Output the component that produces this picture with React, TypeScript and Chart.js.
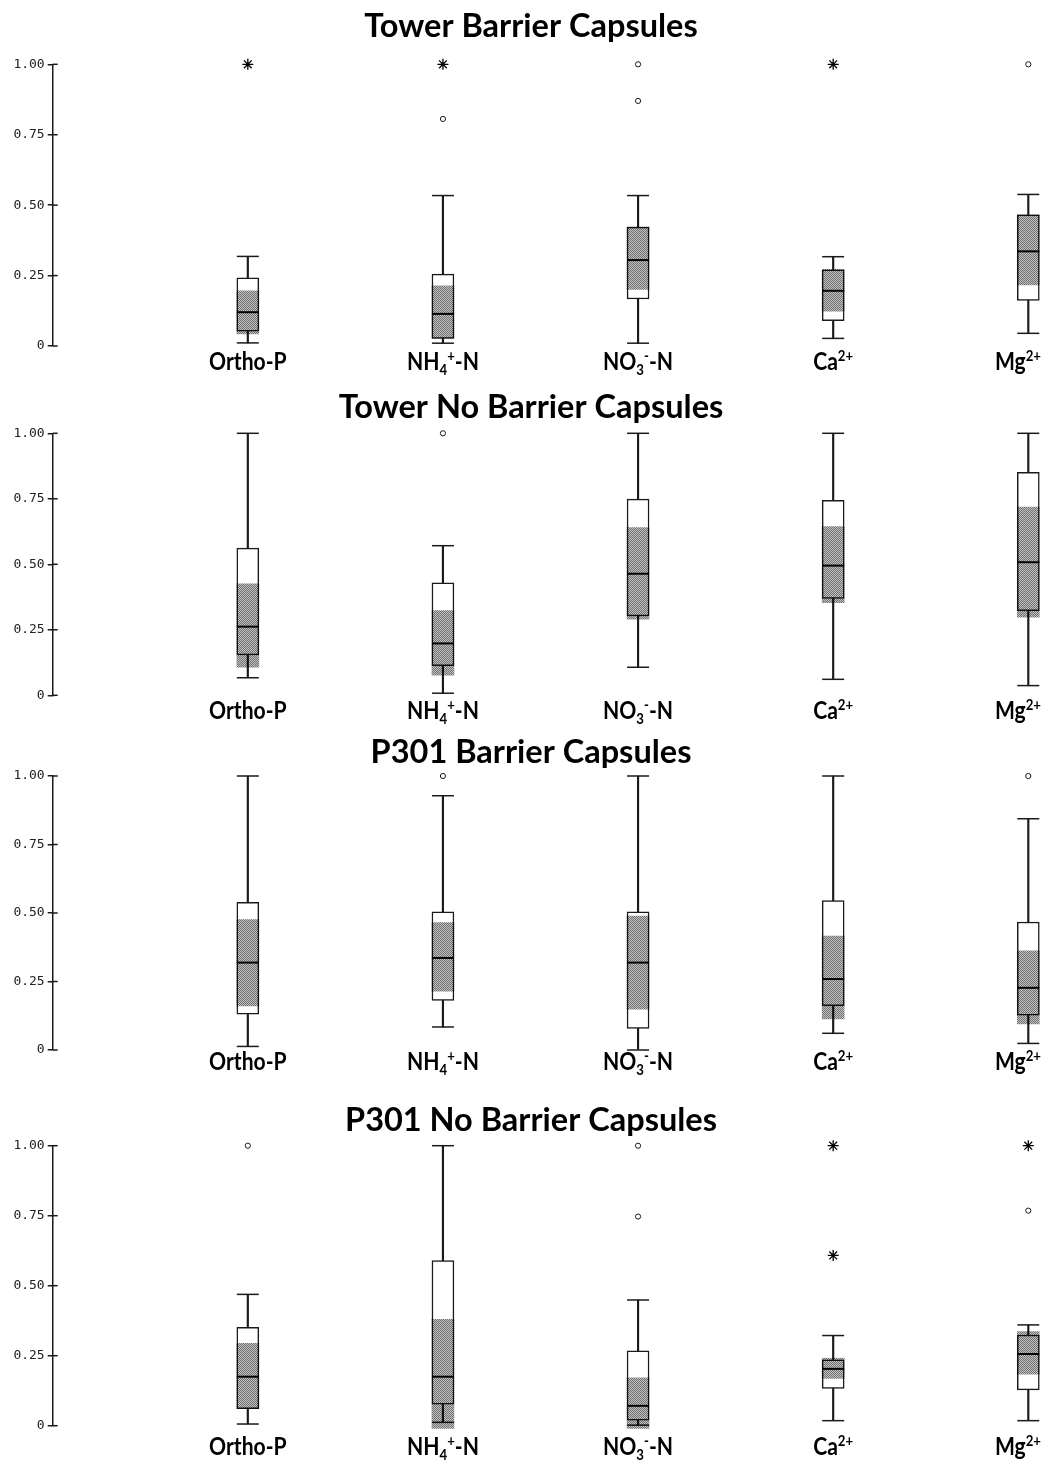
import React, { useEffect, useRef } from 'react';
import { Chart, registerables } from 'chart.js';

Chart.register(...registerables);

// ---------- data ----------
const categories = ['Ortho-P', 'NH4+-N', 'NO3--N', 'Ca2+', 'Mg2+'];
// label pieces: n = normal, sub = subscript, sup = superscript
const categoryLabelParts: [string, string][][] = [
  [['Ortho-P', 'n']],
  [['NH', 'n'], ['4', 'sub'], ['+', 'sup'], ['-N', 'n']],
  [['NO', 'n'], ['3', 'sub'], ['-', 'sup'], ['-N', 'n']],
  [['Ca', 'n'], ['2+', 'sup']],
  [['Mg', 'n'], ['2+', 'sup']],
];
const yTickValues = [0, 0.25, 0.5, 0.75, 1.0];
const yTickLabels = ['0', '0.25', '0.50', '0.75', '1.00'];

const panelTitles = [
  'Tower Barrier Capsules',
  'Tower No Barrier Capsules',
  'P301 Barrier Capsules',
  'P301 No Barrier Capsules',
];

// Tower Barrier
const towerBarrierWhiskerLow = [0.011, 0.010, 0.010, 0.027, 0.045];
const towerBarrierQ1 = [0.053, 0.027, 0.167, 0.090, 0.162];
const towerBarrierMedian = [0.120, 0.114, 0.305, 0.196, 0.336];
const towerBarrierQ3 = [0.242, 0.255, 0.422, 0.270, 0.466];
const towerBarrierWhiskerHigh = [0.318, 0.534, 0.534, 0.317, 0.538];
const towerBarrierCiLow = [0.043, 0.027, 0.201, 0.124, 0.217];
const towerBarrierCiHigh = [0.196, 0.214, 0.422, 0.272, 0.466];
const towerBarrierOutliers: [number, number][] = [[1, 0.806], [2, 1.0], [2, 0.87], [4, 1.0]];
const towerBarrierExtremes: [number, number][] = [[0, 1.0], [1, 1.0], [3, 1.0]];

// Tower No Barrier
const towerNoBarrierWhiskerLow = [0.067, 0.008, 0.107, 0.061, 0.037];
const towerNoBarrierQ1 = [0.154, 0.113, 0.303, 0.370, 0.323];
const towerNoBarrierMedian = [0.262, 0.198, 0.464, 0.495, 0.508];
const towerNoBarrierQ3 = [0.562, 0.429, 0.749, 0.744, 0.851];
const towerNoBarrierWhiskerHigh = [1.0, 0.571, 1.0, 1.0, 1.0];
const towerNoBarrierCiLow = [0.107, 0.077, 0.291, 0.354, 0.298];
const towerNoBarrierCiHigh = [0.425, 0.323, 0.640, 0.644, 0.718];
const towerNoBarrierOutliers: [number, number][] = [[1, 1.0]];
const towerNoBarrierExtremes: [number, number][] = [];

// P301 Barrier
const p301BarrierWhiskerLow = [0.013, 0.084, 0.0, 0.061, 0.024];
const p301BarrierQ1 = [0.131, 0.181, 0.079, 0.162, 0.127];
const p301BarrierMedian = [0.319, 0.336, 0.319, 0.259, 0.227];
const p301BarrierQ3 = [0.539, 0.504, 0.504, 0.545, 0.467];
const p301BarrierWhiskerHigh = [1.0, 0.928, 1.0, 1.0, 0.844];
const p301BarrierCiLow = [0.161, 0.215, 0.149, 0.113, 0.095];
const p301BarrierCiHigh = [0.476, 0.465, 0.489, 0.416, 0.362];
const p301BarrierOutliers: [number, number][] = [[1, 1.0], [4, 1.0]];
const p301BarrierExtremes: [number, number][] = [];

// P301 No Barrier
const p301NoBarrierWhiskerLow = [0.006, 0.012, 0.002, 0.018, 0.018];
const p301NoBarrierQ1 = [0.061, 0.077, 0.020, 0.133, 0.128];
const p301NoBarrierMedian = [0.175, 0.175, 0.071, 0.203, 0.256];
const p301NoBarrierQ3 = [0.351, 0.590, 0.267, 0.235, 0.324];
const p301NoBarrierWhiskerHigh = [0.469, 1.0, 0.449, 0.322, 0.360];
const p301NoBarrierCiLow = [0.061, -0.01, -0.01, 0.169, 0.184];
const p301NoBarrierCiHigh = [0.294, 0.380, 0.171, 0.241, 0.336];
const p301NoBarrierOutliers: [number, number][] = [[0, 1.0], [2, 1.0], [2, 0.747], [4, 0.768]];
const p301NoBarrierExtremes: [number, number][] = [[3, 1.0], [3, 0.608], [4, 1.0]];

const panelData = [
  {
    whiskerLow: towerBarrierWhiskerLow, q1: towerBarrierQ1, median: towerBarrierMedian, q3: towerBarrierQ3,
    whiskerHigh: towerBarrierWhiskerHigh, ciLow: towerBarrierCiLow, ciHigh: towerBarrierCiHigh,
    outliers: towerBarrierOutliers, extremes: towerBarrierExtremes,
  },
  {
    whiskerLow: towerNoBarrierWhiskerLow, q1: towerNoBarrierQ1, median: towerNoBarrierMedian, q3: towerNoBarrierQ3,
    whiskerHigh: towerNoBarrierWhiskerHigh, ciLow: towerNoBarrierCiLow, ciHigh: towerNoBarrierCiHigh,
    outliers: towerNoBarrierOutliers, extremes: towerNoBarrierExtremes,
  },
  {
    whiskerLow: p301BarrierWhiskerLow, q1: p301BarrierQ1, median: p301BarrierMedian, q3: p301BarrierQ3,
    whiskerHigh: p301BarrierWhiskerHigh, ciLow: p301BarrierCiLow, ciHigh: p301BarrierCiHigh,
    outliers: p301BarrierOutliers, extremes: p301BarrierExtremes,
  },
  {
    whiskerLow: p301NoBarrierWhiskerLow, q1: p301NoBarrierQ1, median: p301NoBarrierMedian, q3: p301NoBarrierQ3,
    whiskerHigh: p301NoBarrierWhiskerHigh, ciLow: p301NoBarrierCiLow, ciHigh: p301NoBarrierCiHigh,
    outliers: p301NoBarrierOutliers, extremes: p301NoBarrierExtremes,
  },
];

// ---------- layout ----------
const PAGE_W = 1047;
const panelLayouts = [
  { top: 0, height: 385, padTop: 64.3, padBottom: 39, titleBaseline: 37, labelTop: 7 },
  { top: 385, height: 345, padTop: 48.3, padBottom: 34.7, titleBaseline: 33, labelTop: 6.4 },
  { top: 730, height: 370, padTop: 46, padBottom: 50, titleBaseline: 33, labelTop: 3.3 },
  { top: 1100, height: 365, padTop: 45.7, padBottom: 39.3, titleBaseline: 31, labelTop: 12 },
];
const INK = '#1a1a1a';
const TITLE_X = 531;
const LABEL_SQUEEZE = 0.88;
const LABEL_MAX_RIGHT = 1041;

function makeShadePattern(): CanvasPattern | string {
  const c = document.createElement('canvas');
  c.width = 2;
  c.height = 2;
  const g = c.getContext('2d');
  if (!g) return 'rgba(0,0,0,0.4)';
  g.fillStyle = 'rgba(0,0,0,0.56)';
  g.fillRect(0, 0, 1, 1);
  g.fillRect(1, 1, 1, 1);
  g.fillStyle = 'rgba(0,0,0,0.24)';
  g.fillRect(1, 0, 1, 1);
  g.fillRect(0, 1, 1, 1);
  return g.createPattern(c, 'repeat') || 'rgba(0,0,0,0.4)';
}

const decorPlugin = {
  id: 'panelDecor',
  afterDraw(chart: any, _args: any, opts: any) {
    const ctx: CanvasRenderingContext2D = chart.ctx;
    const area = chart.chartArea;
    const ys = chart.scales.y;
    const xs = chart.scales.x;
    ctx.save();
    // right-hand tick stubs (ticks cross the axis)
    ctx.strokeStyle = INK;
    ctx.lineWidth = 1.5;
    ys.ticks.forEach((t: any) => {
      const py = ys.getPixelForValue(t.value);
      ctx.beginPath();
      ctx.moveTo(area.left, py);
      ctx.lineTo(area.left + 5, py);
      ctx.stroke();
    });
    ctx.fillStyle = '#000';
    ctx.textBaseline = 'alphabetic';
    ctx.textAlign = 'center';
    // title
    ctx.font = 'bold 32.5px Lato';
    ctx.fillText(opts.title, TITLE_X, opts.titleBaseline);
    ctx.textAlign = 'left';
    // category labels
    const big = 'bold 24px Lato';
    const small = 'bold 15px Lato';
    const baseline = area.bottom + opts.labelTop + 17;
    categoryLabelParts.forEach((parts, i) => {
      const widths = parts.map(([t, k]) => {
        ctx.font = k === 'n' ? big : small;
        return ctx.measureText(t).width;
      });
      const total = widths.reduce((a, b) => a + b, 0);
      let cx = xs.getPixelForValue(i + 1);
      const half = (total * LABEL_SQUEEZE) / 2;
      if (cx + half > LABEL_MAX_RIGHT) cx = LABEL_MAX_RIGHT - half;
      ctx.save();
      ctx.translate(cx, baseline);
      ctx.scale(LABEL_SQUEEZE, 1);
      let x = -total / 2;
      parts.forEach(([t, k], j) => {
        ctx.font = k === 'n' ? big : small;
        const dy = k === 'sub' ? 5 : k === 'sup' ? -9 : 0;
        ctx.fillText(t, x, dy);
        x += widths[j];
      });
      ctx.restore();
    });
    ctx.restore();
  },
};

function buildConfig(pi: number, pattern: CanvasPattern | string): any {
  const d = panelData[pi];
  const lay = panelLayouts[pi];
  const idx = categories.map((_, i) => i + 1);
  const caps: { x: number; y: number }[] = [];
  idx.forEach((x, i) => {
    caps.push({ x, y: d.whiskerLow[i] });
    caps.push({ x, y: d.whiskerHigh[i] });
  });
  return {
    type: 'bar',
    data: {
      datasets: [
        {
          type: 'bar',
          label: 'whisker',
          data: idx.map((x, i) => ({ x, y: [d.whiskerLow[i], d.whiskerHigh[i]] })),
          backgroundColor: INK,
          borderWidth: 0,
          barThickness: 1.5,
          grouped: false,
          order: 10,
          clip: false,
        },
        {
          type: 'scatter',
          label: 'caps',
          data: caps,
          pointStyle: 'line',
          pointRadius: 11,
          borderColor: INK,
          borderWidth: 1.5,
          order: 9,
          clip: false,
        },
        {
          type: 'bar',
          label: 'box',
          data: idx.map((x, i) => ({ x, y: [d.q1[i], d.q3[i]] })),
          backgroundColor: '#ffffff',
          borderColor: INK,
          borderWidth: 1.5,
          borderSkipped: false,
          barThickness: 22,
          grouped: false,
          order: 8,
          clip: false,
        },
        {
          type: 'bar',
          label: 'ci',
          data: idx.map((x, i) => ({ x, y: [d.ciLow[i], d.ciHigh[i]] })),
          backgroundColor: pattern,
          borderWidth: 0,
          barThickness: 22,
          grouped: false,
          order: 7,
          clip: false,
        },
        {
          type: 'scatter',
          label: 'median',
          data: idx.map((x, i) => ({ x, y: d.median[i] })),
          pointStyle: 'line',
          pointRadius: 11,
          borderColor: '#000',
          borderWidth: 2,
          order: 6,
          clip: false,
        },
        {
          type: 'scatter',
          label: 'outliers',
          data: d.outliers.map(([c, v]) => ({ x: c + 1, y: v })),
          pointStyle: 'circle',
          pointRadius: 2.6,
          backgroundColor: '#fff',
          borderColor: INK,
          borderWidth: 1,
          order: 5,
          clip: false,
        },
        {
          type: 'scatter',
          label: 'extremes',
          data: d.extremes.map(([c, v]) => ({ x: c + 1, y: v })),
          pointStyle: 'star',
          pointRadius: 5.5,
          borderColor: '#000',
          borderWidth: 1.3,
          order: 4,
          clip: false,
        },
      ],
    },
    options: {
      responsive: false,
      animation: false,
      events: [],
      layout: {
        padding: { top: lay.padTop, bottom: lay.padBottom, left: 0, right: PAGE_W - 1028.3 },
      },
      plugins: {
        legend: { display: false },
        tooltip: { enabled: false },
        title: { display: false },
        panelDecor: {
          title: panelTitles[pi],
          titleBaseline: lay.titleBaseline,
          labelTop: lay.labelTop,
        },
      },
      scales: {
        x: { type: 'linear', min: 0, max: 5, offset: false, display: false },
        y: {
          type: 'linear',
          min: 0,
          max: 1,
          afterBuildTicks: (axis: any) => {
            axis.ticks = yTickValues.map((v) => ({ value: v }));
          },
          afterFit: (axis: any) => {
            axis.width = 52.7;
          },
          border: { display: true, color: INK, width: 1.5 },
          grid: {
            display: true,
            drawOnChartArea: false,
            drawTicks: true,
            tickLength: 5,
            color: INK,
            lineWidth: 1.5,
          },
          ticks: {
            padding: 3,
            color: '#222',
            font: { family: 'DejaVu Sans Mono', size: 13 },
            callback: (v: number) => {
              const k = yTickValues.indexOf(v);
              return k >= 0 ? yTickLabels[k] : '';
            },
          },
        },
      },
    },
    plugins: [decorPlugin],
  };
}

function Panel({ index }: { index: number }) {
  const ref = useRef<HTMLCanvasElement | null>(null);
  useEffect(() => {
    let chart: Chart | null = null;
    let cancelled = false;
    const make = () => {
      if (cancelled || !ref.current) return;
      chart = new Chart(ref.current, buildConfig(index, makeShadePattern()));
    };
    const fonts = (document as any).fonts;
    if (fonts && fonts.load) {
      Promise.all([
        fonts.load('bold 24px Lato'),
        fonts.load('13px "DejaVu Sans Mono"'),
      ]).then(make, make);
    } else {
      make();
    }
    return () => {
      cancelled = true;
      if (chart) chart.destroy();
    };
  }, [index]);
  const lay = panelLayouts[index];
  return (
    <canvas
      ref={ref}
      width={PAGE_W}
      height={lay.height}
      style={{ position: 'absolute', left: 0, top: lay.top, width: PAGE_W, height: lay.height }}
    />
  );
}

export default function App() {
  return (
    <div style={{ position: 'absolute', left: 0, top: 0, width: PAGE_W, height: 1465, background: '#fff' }}>
      {panelLayouts.map((_, i) => (
        <Panel key={i} index={i} />
      ))}
    </div>
  );
}
